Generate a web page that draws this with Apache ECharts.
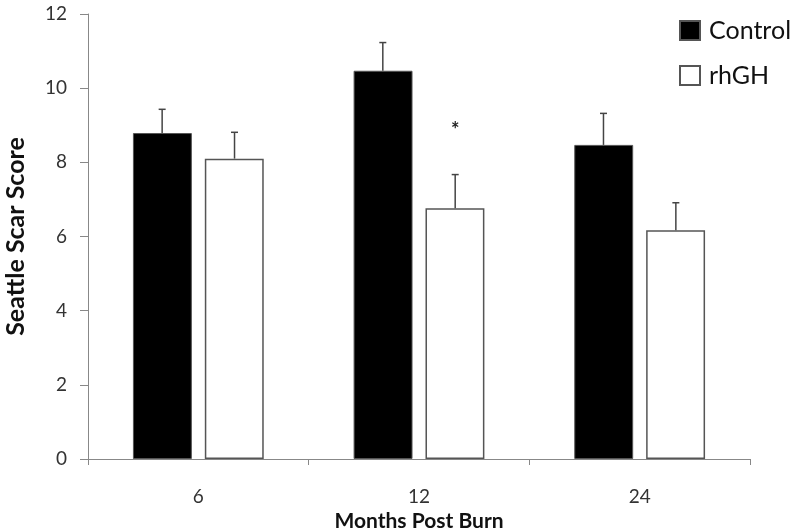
<!DOCTYPE html>
<html>
<head>
<meta charset="utf-8">
<script src="https://cdn.jsdelivr.net/npm/echarts@6/dist/echarts.min.js"></script>
<style>html,body{margin:0;padding:0;background:#fff}#c{width:800px;height:532px}</style>
</head>
<body>
<div id="c"></div>
<script>
var categories = ['6', '12', '24'];
var controlValues = [8.79, 10.47, 8.47];
var controlErrors = [0.64, 0.76, 0.85];
var rhghValues = [8.10, 6.76, 6.17];
var rhghErrors = [0.71, 0.91, 0.74];
var asteriskValues = [null, 8.87, null];
var yTicks = [0, 2, 4, 6, 8, 10, 12];

var BAR_FRAC = 0.267;
var OFFSET_FRAC = 0.164;
var FONT = 'Lato, "Open Sans", sans-serif';

function errData(vals, errs) {
  return vals.map(function (v, i) { return [i, v, v + errs[i]]; });
}

function errRender(sign) {
  return function (params, api) {
    var band = api.size([1, 0])[0];
    var c0 = api.coord([api.value(0), api.value(1)]);
    var c1 = api.coord([api.value(0), api.value(2)]);
    var x = c0[0] + sign * OFFSET_FRAC * band;
    var style = { stroke: '#444', lineWidth: 1.5 };
    return {
      type: 'group',
      children: [
        { type: 'line', shape: { x1: x, y1: c0[1], x2: x, y2: c1[1] }, style: style },
        { type: 'line', shape: { x1: x - 3.5, y1: c1[1], x2: x + 3.5, y2: c1[1] }, style: style }
      ]
    };
  };
}

var asteriskData = [];
asteriskValues.forEach(function (v, i) { if (v !== null) asteriskData.push([i, v]); });

var chart = echarts.init(document.getElementById('c'));
chart.setOption({
  animation: false,
  backgroundColor: '#fff',
  grid: { left: 88, right: 50, top: 14, bottom: 73, containLabel: false, outerBoundsMode: 'none' },
  legend: {
    orient: 'vertical',
    left: 679,
    top: 18,
    padding: 0,
    itemWidth: 20,
    itemHeight: 19,
    itemGap: 20,
    icon: 'rect',
    textStyle: { fontFamily: FONT, fontSize: 25, lineHeight: 25, color: '#111', padding: [0, 0, 0, 4] },
    data: ['Control', 'rhGH']
  },
  xAxis: {
    type: 'category',
    data: categories,
    name: 'Months Post Burn',
    nameLocation: 'middle',
    nameGap: 46,
    nameTextStyle: { fontFamily: FONT, fontSize: 21, fontWeight: 'bold', color: '#111' },
    axisLine: { lineStyle: { color: '#888', width: 1 } },
    axisTick: { show: true, length: 6, lineStyle: { color: '#888' } },
    axisLabel: { fontFamily: FONT, fontSize: 19, color: '#333', margin: 28 }
  },
  yAxis: {
    type: 'value',
    min: 0,
    max: 12,
    interval: 2,
    name: 'Seattle Scar Score',
    nameLocation: 'middle',
    nameGap: 60,
    nameTextStyle: { fontFamily: FONT, fontSize: 25, fontWeight: 'bold', color: '#111' },
    axisLine: { show: true, lineStyle: { color: '#888', width: 1 } },
    axisTick: { show: true, length: 8, lineStyle: { color: '#888' } },
    splitLine: { show: false },
    axisLabel: { fontFamily: FONT, fontSize: 19, color: '#333', margin: 21,
      formatter: function (v) { return yTicks.indexOf(v) >= 0 ? String(v) : ''; } }
  },
  series: [
    {
      name: 'Control', type: 'bar', data: controlValues,
      barWidth: (BAR_FRAC * 100) + '%', barGap: '22%',
      itemStyle: { color: '#000', borderColor: '#555', borderWidth: 1 }
    },
    {
      name: 'rhGH', type: 'bar', data: rhghValues,
      barWidth: (BAR_FRAC * 100) + '%', barGap: '22%',
      itemStyle: { color: '#fff', borderColor: '#555', borderWidth: 1.5 }
    },
    {
      type: 'custom', data: errData(controlValues, controlErrors),
      renderItem: errRender(-1), z: 5, silent: true
    },
    {
      type: 'custom', data: errData(rhghValues, rhghErrors),
      renderItem: errRender(1), z: 5, silent: true
    },
    {
      type: 'custom', data: asteriskData, z: 6, silent: true,
      renderItem: function (params, api) {
        var band = api.size([1, 0])[0];
        var c = api.coord([api.value(0), api.value(1)]);
        return {
          type: 'text',
          style: { text: '*', x: c[0] + OFFSET_FRAC * band, y: c[1], fontFamily: FONT,
            fontSize: 20, fontWeight: 'bold', fill: '#222', align: 'center', verticalAlign: 'middle' }
        };
      }
    }
  ]
});
</script>
</body>
</html>
